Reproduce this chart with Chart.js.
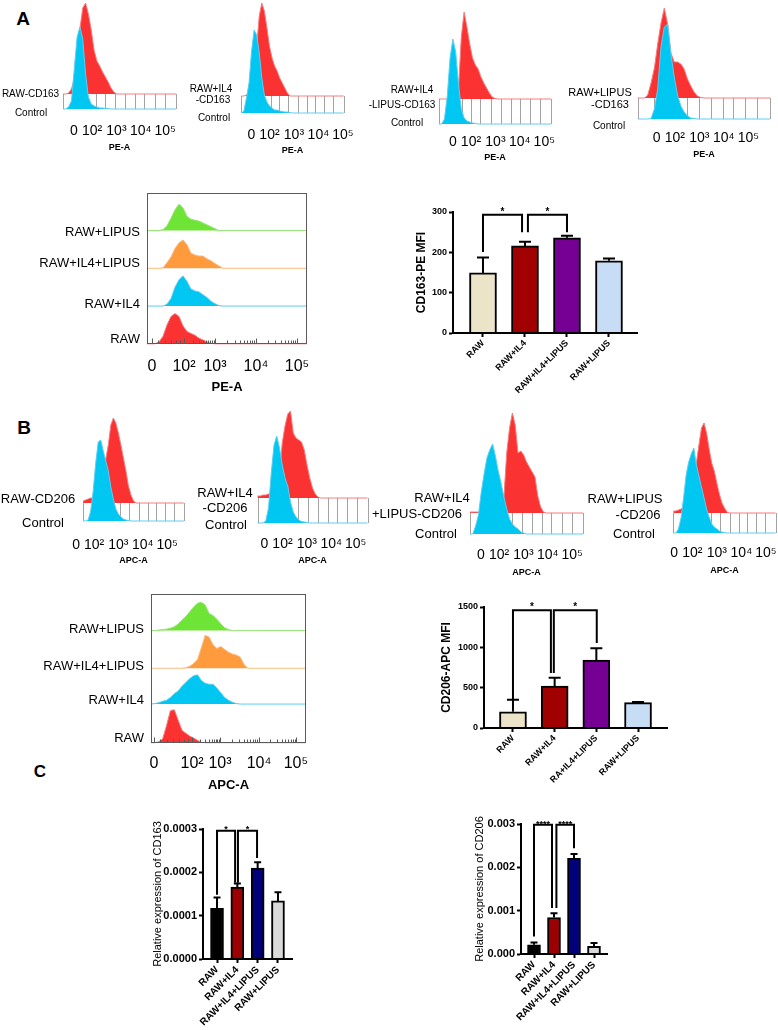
<!DOCTYPE html>
<html><head><meta charset="utf-8">
<script src="https://cdn.jsdelivr.net/npm/chart.js@4.4.1/dist/chart.umd.min.js"></script>
<style>
html,body{margin:0;padding:0;background:#fff}
body{position:relative;width:778px;height:1030px;overflow:hidden;font-family:Arial,"Liberation Sans",sans-serif;color:#000}
canvas{position:absolute;display:block}
.t{position:absolute;white-space:nowrap;line-height:1;transform:translate(-50%,-50%)}
</style></head><body>
<script>
// ================= DATA =================
// channel bins (arbitrary channel units, 0..100 spans each histogram plot)
const bins = [0,2.5,5,7.5,10,12.5,15,17.5,20,22.5,25,27.5,30,32.5,35,37.5,40,42.5,45,47.5,50,52.5,55,57.5,60,62.5,65,67.5,70,100];
const decadeLabels = ['0','10²','10³','10⁴','10⁵'];
const rowLabels = ['RAW','RAW+IL4','RAW+IL4+LIPUS','RAW+LIPUS'];
const groupsA = ['RAW','RAW+IL4','RAW+IL4+LIPUS','RAW+LIPUS'];
const groupsB = ['RAW','RAW+IL4','RA+IL4+LIPUS','RAW+LIPUS'];
const groupsC = ['RAW','RAW+IL4','RAW+IL4+LIPUS','RAW+LIPUS'];

// small overlay histograms (counts), red = stained, blue = control
const a1Red  = [0,0,1,5,15,35,65,86,91,80,64,44,33,28,22,17,12,6,2,0,0,0,0,0,0,0,0,0,0,0];
const a1Blue = [0,0,2,8,40,72,82,70,35,12,5,3,2,1,1,0.5,0.5,0,0,0,0,0,0,0,0,0,0,0,0,0];
const a2Red  = [0,0,1,3,8,20,50,80,93,85,68,50,38,30,25,18,13,8,3,0,0,0,0,0,0,0,0,0,0,0];
const a2Blue = [0,2,15,30,62,83,78,60,35,18,11,7,5,3,3,2,1.5,1,1,0.5,0,0,0,0,0,0,0,0,0,0];
const a3Red  = [0,0,0,0,0,0,0,10,62,87,72,55,41,34,30,22,16,11,6,2,0.5,0,0,0,0,0,0,0,0,0];
const a3Blue = [0,0,5,28,66,85,72,40,15,6,3,2,1,0.5,0,0,0,0,0,0,0,0,0,0,0,0,0,0,0,0];
const a4Red  = [0,0,0,3,15,30,54,75,90,74,45,36,36,34,29,19,12,6,2,0.5,0,0,0,0,0,0,0,0,0,0];
const a4Blue = [0,0,0,0,0.5,10,30,72,92,95,65,42,24,13,7,3,1,0.5,0,0,0,0,0,0,0,0,0,0,0,0];
const b1Red  = [2,3,4,5,5,8,14,22,32,44,58,78,85,80,70,58,45,32,17,8,2,0,0,0,0,0,0,0,0,0];
const b1Blue = [0,0,1,10,30,58,79,81,70,60,50,34,22,12,7,4,2,1,0.5,0,0,0,0,0,0,0,0,0,0,0];
const b2Red  = [2,2,3,3,4,4,5,8,25,55,72,84,87,65,60,58,56,48,33,20,10,4,1,0,0,0,0,0,0,0];
const b2Blue = [0,0,0,2,15,50,78,87,75,58,45,37,21,11,6,3,1.5,1,0.5,0,0,0,0,0,0,0,0,0,0,0];
const b3Red  = [1,1,1,1,1,1,1,1,1,1,1,3,15,60,85,100,88,60,62,58,51,46,41,36,17,6,1,0,0,0];
const b3Blue = [0,0,8,19,42,60,76,84,90,78,63,51,37,25,15,10,7,5,2,1,0,0,0,0,0,0,0,0,0,0];
const b4Red  = [2,2,3,4,5,8,14,22,35,50,68,85,90,80,64,50,42,30,19,10,5,1,0,0,0,0,0,0,0,0];
const b4Blue = [0,0,4,15,35,58,71,79,85,68,57,46,35,24,16,9,6,4,2,1,0.5,0,0,0,0,0,0,0,0,0];

// stacked histograms
const aRed    = [0,0,0,2,8,20,29,32,29,19,13,11,9,6,4,2,0.5,0,0,0,0,0,0,0,0,0,0,0,0,0];
const aBlue   = [0,0,0,0,0,2,8,20,28,32,26,18,16,15,12,9,5,2.5,0.5,0,0,0,0,0,0,0,0,0,0,0];
const aOrange = [0,0,0,0,0.5,6,12,21,27,30,25,16,14,13,13,10,8,5,2.5,0,0,0,0,0,0,0,0,0,0,0];
const aGreen  = [0,0,0,0,1,5,13,22,28,24,15,12,11,10,8,6,4,2,0,0,0,0,0,0,0,0,0,0,0,0];
const bRed    = [0,0,1,4,18,34,35,24,13,10,7,5,2.5,0.5,0,0,0,0,0,0,0,0,0,0,0,0,0,0,0,0];
const bBlue   = [0,0.5,1.5,3,4,7,11,14,19,23,27,30,31,25,22,21,21,17,12,7,4,2,0.5,0,0,0,0,0,0,0];
const bOrange = [0,0,0,0,0,0,0,0,0,0.5,2,5,9,22,35,33,25,21,23,20,17,15,14,12,4,0,0,0,0,0];
const bGreen  = [0,0,0.5,1,1.5,2.5,4,7,11,15,20,25,29,30,27,18,16,12,7,3,1,0,0,0,0,0,0,0,0,0];

// bar charts: mean and upper error (SD)
const cd163Mfi    = [149, 216, 236, 179];
const cd163MfiErr = [38, 10, 5, 6];
const cd206Mfi    = [202, 520, 843, 314];
const cd206MfiErr = [148, 104, 145, 8];
const cd163Rel    = [0.000117, 0.000166, 0.000210, 0.000134];
const cd163RelErr = [0.000025, 0.000008, 0.000013, 0.000020];
const cd206Rel    = [0.000214, 0.000843, 0.00221, 0.000175];
const cd206RelErr = [0.000053, 0.000100, 0.000100, 0.000078];

// significance brackets (data units)
const sigA  = [{x1:0,y1:201,x2:0.93,y2:250,top:293,label:'*'},{x1:1.07,y1:250,x2:2,y2:250,top:293,label:'*'}];
const sigB  = [{x1:0,y1:360,x2:0.91,y2:682,top:1460,label:'*'},{x1:0.98,y1:682,x2:2.01,y2:1054,top:1460,label:'*'}];
const sigC1 = [{x1:0,y1:0.000148,x2:0.89,y2:0.000176,top:0.000296,label:'*'},{x1:1.03,y1:0.000176,x2:1.97,y2:0.000233,top:0.000296,label:'*'}];
const sigC2 = [{x1:0,y1:0.000405,x2:0.9,y2:0.00106,top:0.00298,label:'****'},{x1:1.12,y1:0.00106,x2:2.0,y2:0.00244,top:0.00298,label:'****'}];

// frame (offset box) line positions and stacked-histogram axis minor ticks
const frameLines = [0,12,21,29,37,46,55,64,72,81,90,100];
const minorTicksA = [3.1,7,11,15,18,20.5,23.1,28.9,32.4,34.8,36.7,38.2,39.5,40.6,41.6,42.5,50.2,54.7,57.9,60.4,62.4,64.1,65.6,66.9,68.1,75.8,80.3,83.5,86,88,89.8,91.3,92.5,93.75];
const minorTicksB = [1.9,6,10,14,18,21,24,26.5,31.9,34.9,37.3,39.1,40.6,41.9,42.9,43.7,44.5,52.1,56.5,59.7,62.1,64.1,65.8,67.3,68.5,69.7,76.9,81.1,84.2,86.5,88.4,90,91.4,92.6,93.5];

// ================= RENDER =================
const FONT = 'Arial, "Liberation Sans", sans-serif';
Chart.defaults.font.family = FONT;
Chart.defaults.color = '#000';

const RED='rgb(250,50,50)', RED_LINE='rgb(245,125,125)';
const BLUE='rgb(0,198,242)', BLUE_LINE='rgb(95,205,240)';
const GREEN='rgb(110,228,55)', GREEN_LINE='rgb(150,228,120)';
const ORANGE='rgb(255,155,60)', ORANGE_LINE='rgb(250,185,125)';

function mkCanvas(l,t,w,h){
  const c=document.createElement('canvas');
  c.width=w;c.height=h;
  c.style.left=l+'px';c.style.top=t+'px';c.style.width=w+'px';c.style.height=h+'px';
  document.body.appendChild(c);
  return c.getContext('2d');
}
function addText(s,cx,cy,size,bold){
  const d=document.createElement('div');
  d.className='t';d.textContent=s;
  d.style.left=cx+'px';d.style.top=cy+'px';d.style.fontSize=size+'px';
  if(bold)d.style.fontWeight='bold';
  document.body.appendChild(d);
}
const baseOpts=()=>({responsive:false,devicePixelRatio:1,animation:false,events:[],
  plugins:{legend:{display:false},tooltip:{enabled:false}}});

function smallHist(g,red,blue){
  const PADX=20;
  const caL=Math.round(g.left-0.15*g.width), caW=Math.round(1.3*g.width);
  const caBottom=g.tickY-8.4;
  const G=caBottom-g.base;
  const tpT=g.titleY-g.tickY-13.8;
  const raw=(caBottom-g.top)+16.8+10.8+tpT;
  const H=Math.ceil(raw), tpB=H-raw;
  const ctx=mkCanvas(caL-PADX,g.top,caW+2*PADX,H);
  const frame={id:'frame',beforeDatasetsDraw(chart){
    const {ctx,scales:{x,y}}=chart;
    const y0=y.getPixelForValue(0), y1=y.getPixelForValue(g.offset);
    ctx.save();ctx.strokeStyle='#a3a3a3';ctx.lineWidth=1;
    frameLines.forEach(v=>{const px=Math.round(x.getPixelForValue(v))+0.5;ctx.beginPath();ctx.moveTo(px,y0);ctx.lineTo(px,y1);ctx.stroke();});
    ctx.restore();}};
  const o=baseOpts();
  o.layout={padding:{left:PADX,right:PADX,top:0,bottom:0}};
  o.scales={
    x:{type:'linear',min:-15,max:115,grid:{display:false,drawTicks:false},border:{display:false},
      afterBuildTicks:s=>{s.ticks=g.ticks.map(v=>({value:v}));},
      ticks:{autoSkip:false,maxRotation:0,minRotation:0,padding:0,font:{size:14},callback:(v,i)=>decadeLabels[i]},
      title:{display:true,text:g.title,font:{size:9,weight:'bold'},padding:{top:tpT,bottom:tpB}}},
    y:{display:false,min:-G,max:g.base-g.top}
  };
  new Chart(ctx,{type:'line',data:{datasets:[
    {data:bins.map((x,i)=>({x,y:blue[i]})),borderColor:BLUE_LINE,borderWidth:1,backgroundColor:BLUE,fill:'origin',pointRadius:0,tension:0},
    {data:bins.map((x,i)=>({x,y:g.offset+red[i]})),borderColor:RED_LINE,borderWidth:1,backgroundColor:RED,fill:{value:g.offset},pointRadius:0,tension:0}
  ]},options:o,plugins:[frame]});
}

function bigHist(g,series,title){
  const YW=120,PR=20,PT=5;
  const caBottom=g.tickY-9.6;
  const G=caBottom-g.base;
  const tpT=g.titleY-g.tickY-17.4;
  const raw=PT+(caBottom-g.top)+19.2+15.6+tpT;
  const H=Math.ceil(raw), tpB=H-raw;
  const ctx=mkCanvas(g.left-YW,g.top-PT,YW+g.right-g.left+PR,H);
  const box={id:'box',afterDatasetsDraw(chart){
    const {ctx,scales:{x,y}}=chart;
    const l=Math.round(x.getPixelForValue(0))+0.5, r=Math.round(x.getPixelForValue(100))-0.5;
    const t=Math.round(y.getPixelForValue(g.yMax))+0.5, b=Math.round(y.getPixelForValue(0))-0.5;
    ctx.save();ctx.strokeStyle='#5a5a5a';ctx.lineWidth=1;ctx.strokeRect(l,t,r-l,b-t);
    g.minor.forEach(v=>{const px=Math.round(x.getPixelForValue(v))+0.5;const major=g.xTicks.indexOf(v)>=0;
      ctx.beginPath();ctx.moveTo(px,b);ctx.lineTo(px,b-(major?5:3));ctx.stroke();});
    ctx.restore();}};
  const o=baseOpts();
  o.layout={padding:{top:PT,right:PR,left:0,bottom:0}};
  o.scales={
    x:{type:'linear',min:0,max:100,grid:{display:false,drawTicks:false},border:{display:false},
      afterBuildTicks:s=>{s.ticks=g.xTicks.map(v=>({value:v}));},
      ticks:{autoSkip:false,maxRotation:0,minRotation:0,padding:0,font:{size:16},callback:(v,i)=>decadeLabels[i]},
      title:{display:true,text:title,font:{size:13,weight:'bold'},padding:{top:tpT,bottom:tpB}}},
    y:{min:-G,max:g.yMax,afterFit:s=>{s.width=YW;},grid:{display:false,drawTicks:false},border:{display:false},
      afterBuildTicks:s=>{s.ticks=g.labelVals.map(v=>({value:v}));},
      ticks:{autoSkip:false,padding:7,font:{size:13},callback:(v,i)=>rowLabels[i]}}
  };
  const datasets=series.map((s,k)=>({data:bins.map((x,i)=>({x,y:g.offsets[k]+s.values[i]})),
    backgroundColor:s.fill,borderColor:s.line,borderWidth:1,fill:{value:g.offsets[k]},pointRadius:0,tension:0}));
  new Chart(ctx,{type:'line',data:{datasets},options:o,plugins:[box]});
}

function barChart(g,labels,values,errs,colors,sig,st){
  const YW=60,PT=15,PR=10;
  const W=YW+g.right-g.left+PR, H=PT+g.bottom-g.top+st.xh;
  const ctx=mkCanvas(g.left-YW,g.top-PT,W,H);
  const tPad=g.titleX-(g.left-YW)-st.titleSize*0.6;
  const yMax=g.yTicks[g.yTicks.length-1];
  const plug={id:'errsig',afterDatasetsDraw(chart){
    const {ctx,scales:{x,y}}=chart;
    const meta=chart.getDatasetMeta(0);
    ctx.save();ctx.strokeStyle='#000';ctx.lineWidth=st.lw;ctx.lineCap='butt';ctx.lineJoin='miter';
    meta.data.forEach((bar,i)=>{
      const yb=y.getPixelForValue(values[i]), yt=y.getPixelForValue(values[i]+errs[i]);
      ctx.beginPath();ctx.moveTo(bar.x,yb);ctx.lineTo(bar.x,yt);
      ctx.moveTo(bar.x-st.cap/2,yt);ctx.lineTo(bar.x+st.cap/2,yt);ctx.stroke();
    });
    ctx.font='bold '+st.starFont+'px '+FONT;ctx.textAlign='center';ctx.textBaseline='alphabetic';ctx.fillStyle='#000';
    sig.forEach(s=>{
      const x1=x.getPixelForValue(s.x1), x2=x.getPixelForValue(s.x2), t=y.getPixelForValue(s.top);
      ctx.beginPath();ctx.moveTo(x1,y.getPixelForValue(s.y1));ctx.lineTo(x1,t);ctx.lineTo(x2,t);ctx.lineTo(x2,y.getPixelForValue(s.y2));ctx.stroke();
      ctx.fillText(s.label,(x1+x2)/2,t+st.starDy);
    });
    ctx.restore();}};
  const o=baseOpts();
  o.layout={padding:{top:PT,right:PR,left:0,bottom:0}};
  const gridOpt={display:true,offset:false,drawOnChartArea:false,drawTicks:true,tickLength:4,tickWidth:2,tickColor:'#000'};
  o.scales={
    x:{type:'linear',min:g.xMin,max:g.xMax,offset:false,grid:gridOpt,border:{display:true,color:'#000',width:2,z:1},
      afterBuildTicks:s=>{s.ticks=labels.map((_,i)=>({value:i}));},afterFit:s=>{s.height=st.xh;},
      ticks:{autoSkip:false,minRotation:45,maxRotation:45,padding:1,font:{size:st.xFont,weight:'bold'},callback:(v,i)=>labels[i]}},
    y:{min:0,max:yMax,afterBuildTicks:s=>{s.ticks=g.yTicks.map(v=>({value:v}));},afterFit:s=>{s.width=YW;},
      grid:gridOpt,border:{display:true,color:'#000',width:2,z:1},
      ticks:{padding:2,font:{size:st.yFont,weight:'bold'},callback:v=>Number(v).toFixed(g.dec)},
      title:{display:true,text:g.title,font:{size:st.titleSize,weight:st.titleWeight},padding:{top:tPad,bottom:0}}}
  };
  new Chart(ctx,{type:'bar',data:{datasets:[{data:values.map((v,i)=>({x:i,y:v})),backgroundColor:colors,
    borderColor:'#000',borderWidth:st.bw,borderSkipped:'start',barThickness:st.barW}]},options:o,plugins:[plug]});
}

// ---- panel letters
addText('A',23,18,19,true);
addText('B',24,427,19,true);
addText('C',40,771,17,true);

// ---- small overlay histograms
const smallGeom=[
 {left:63, width:113,top:0,  base:109,offset:15,ticks:[9.6,25.7,47.3,68.8,90.4], tickY:131,titleY:148,title:'PE-A'},
 {left:241,width:102,top:0,  base:113,offset:17,ticks:[9.7,27.5,51.4,75.3,99.2], tickY:135,titleY:151,title:'PE-A'},
 {left:439,width:112,top:0,  base:124,offset:25,ticks:[12.4,28.6,50.4,72.1,93.9],tickY:142,titleY:158,title:'PE-A'},
 {left:638,width:132,top:0,  base:119,offset:21,ticks:[14.3,28,46.5,65,83.5],    tickY:138,titleY:155,title:'PE-A'},
 {left:83, width:101,top:400,base:521,offset:18,ticks:[-7,10.9,35,59.2,83.4],    tickY:545,titleY:561,title:'APC-A'},
 {left:257,width:110,top:400,base:523,offset:25,ticks:[6.3,22.7,44.9,67.1,89.3], tickY:544,titleY:561,title:'APC-A'},
 {left:470,width:113,top:400,base:534,offset:21,ticks:[9.6,25.7,47.3,68.8,90.4], tickY:555,titleY:573,title:'APC-A'},
 {left:673,width:102,top:400,base:533,offset:20,ticks:[0.9,18.6,42.5,66.5,90.4], tickY:553,titleY:571,title:'APC-A'}
];
const smallData=[[a1Red,a1Blue],[a2Red,a2Blue],[a3Red,a3Blue],[a4Red,a4Blue],[b1Red,b1Blue],[b2Red,b2Blue],[b3Red,b3Blue],[b4Red,b4Blue]];
smallGeom.forEach((g,i)=>smallHist(g,smallData[i][0],smallData[i][1]));

// small histogram side labels
[['RAW-CD163',30.5,94,10],['Control',31,113,10],
 ['RAW+IL4',211,89,10],['-CD163',213,100,10],['Control',214,118,10],
 ['RAW+IL4',412,90,10],['-LIPUS-CD163',402,105,10],['Control',407,123,10],
 ['RAW+LIPUS',600,92,11],['-CD163',610,104,11],['Control',609,126,10],
 ['RAW-CD206',38,498,13],['Control',43,522,13],
 ['RAW+IL4',225,492,13],['-CD206',225,507,13],['Control',226,524,13],
 ['RAW+IL4',442,497,13],['+LIPUS-CD206',417,513,13],['Control',436,533,13],
 ['RAW+LIPUS',625,498,13],['-CD206',638,514,13],['Control',634,533,13]
].forEach(a=>addText(a[0],a[1],a[2],a[3],false));

// ---- stacked histograms
bigHist({left:147,right:307,top:183,base:343,yMax:160,tickY:367,titleY:387,
  xTicks:[3.1,23.1,42.5,68.1,93.75],labelVals:[5,42,85,118],offsets:[0,40,80,120],minor:minorTicksA},
  [{values:aRed,fill:RED,line:RED_LINE},{values:aBlue,fill:BLUE,line:BLUE_LINE},
   {values:aOrange,fill:ORANGE,line:ORANGE_LINE},{values:aGreen,fill:GREEN,line:GREEN_LINE}],'PE-A');
bigHist({left:151,right:306,top:584,base:742,yMax:158,tickY:764,titleY:785,
  xTicks:[1.9,26.5,44.5,69.7,93.5],labelVals:[5,45,81,120],offsets:[0,41,79,119],minor:minorTicksB},
  [{values:bRed,fill:RED,line:RED_LINE},{values:bBlue,fill:BLUE,line:BLUE_LINE},
   {values:bOrange,fill:ORANGE,line:ORANGE_LINE},{values:bGreen,fill:GREEN,line:GREEN_LINE}],'APC-A');

// ---- bar charts
const colsAB=['#ece4c8','#a00000','#760094','#c6ddf5'];
const colsC=['#000000','#9c0000','#00007a','#d9d9d9'];
const stAB={barW:27,bw:2,cap:12,xFont:9,yFont:9,titleSize:12,titleWeight:'bold',xh:80,lw:2,starFont:10,starDy:0};
const stC={barW:13,bw:2,cap:7,xFont:10,yFont:11,titleSize:11,titleWeight:'normal',xh:70,lw:2,starFont:9,starDy:1};
barChart({left:453,right:637,top:212,bottom:333,xMin:-0.714,xMax:3.667,yTicks:[0,100,200,300],dec:0,title:'CD163-PE MFI',titleX:422},
  groupsA,cd163Mfi,cd163MfiErr,colsAB,sigA,stAB);
barChart({left:484,right:667,top:607,bottom:728,xMin:-0.695,xMax:3.695,yTicks:[0,500,1000,1500],dec:0,title:'CD206-APC MFI',titleX:447},
  groupsB,cd206Mfi,cd206MfiErr,colsAB,sigB,stAB);
barChart({left:203,right:292,top:829,bottom:959,xMin:-0.69,xMax:3.69,yTicks:[0,0.0001,0.0002,0.0003],dec:4,title:'Relative expression of CD163',titleX:157.5},
  groupsC,cd163Rel,cd163RelErr,colsC,sigC1,stC);
barChart({left:521,right:607,top:824,bottom:954,xMin:-0.65,xMax:3.65,yTicks:[0,0.001,0.002,0.003],dec:3,title:'Relative expression of CD206',titleX:480},
  groupsC,cd206Rel,cd206RelErr,colsC,sigC2,Object.assign({},stC,{starDy:2}));
</script>
</body></html>
